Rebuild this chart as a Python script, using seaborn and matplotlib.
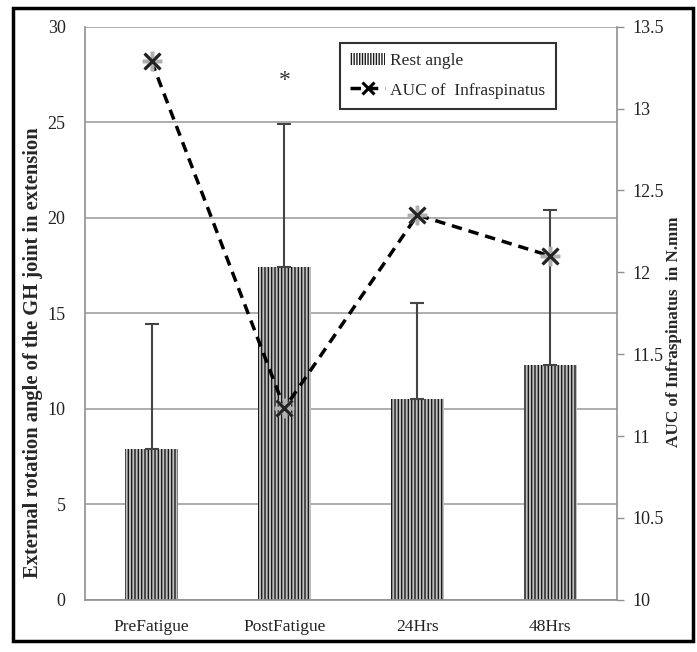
import numpy as np
import pandas as pd
import matplotlib
matplotlib.use('Agg')
import matplotlib.pyplot as plt
import seaborn as sns
from matplotlib.patches import Patch, Rectangle
from matplotlib.lines import Line2D

# data
stages = ['PreFatigue', 'PostFatigue', '24Hrs', '48Hrs']
rest_angle = [7.9, 17.4, 10.5, 12.3]
rest_err_up = [6.55, 7.5, 5.05, 8.1]
auc_infra = [13.29, 11.17, 12.35, 12.10]

sns.set_theme(style='white')
plt.rcParams['font.family'] = ['Liberation Serif', 'DejaVu Serif']
plt.rcParams['hatch.linewidth'] = 1.0

df = pd.DataFrame({'stage': stages, 'rest': rest_angle, 'auc': auc_infra})

fig = plt.figure(figsize=(6.97, 6.52), dpi=100)
ax = fig.add_axes([0.122, 0.080, 0.763, 0.879])

# bars
sns.barplot(data=df, x='stage', y='rest', ax=ax, color='#c0c0c0',
            width=0.4, saturation=1, errorbar=None, zorder=2)
for p in ax.patches:
    p.set_hatch('|||||')
    p.set_edgecolor('#1a1a1a')
    p.set_linewidth(0)

# upper error bars only
xpos = np.arange(len(stages))
ax.errorbar(xpos, rest_angle, yerr=[np.zeros(len(stages)), rest_err_up],
            fmt='none', ecolor='#444444', elinewidth=1.5, capsize=5,
            capthick=1.5, zorder=3)

ax.text(1, 27.2, '*', ha='center', va='center', fontsize=17, color='#333333')

ax.set_ylim(0, 30)
ax.set_yticks(range(0, 31, 5))
ax.set_xlim(-0.5, 3.5)
ax.yaxis.grid(True, color='#a0a0a0', linewidth=1.2)
ax.set_axisbelow(True)
for s in ['left', 'bottom', 'right']:
    ax.spines[s].set_color('#909090')
    ax.spines[s].set_linewidth(1.2)
ax.spines['top'].set_visible(False)
ax.tick_params(axis='y', length=0, pad=14, labelsize=13, colors='#222222')
ax.tick_params(axis='x', length=0, pad=14, labelsize=12.5, colors='#222222')
ax.set_xlabel('')
ax.set_ylabel('External rotation angle of the GH joint in extension',
              fontsize=14.8, fontweight='bold')
ax.yaxis.set_label_coords(-0.079, 0.432)

# line on secondary axis
ax2 = ax.twinx()
sns.lineplot(data=df, x='stage', y='auc', ax=ax2, color='black',
             linestyle=(0, (3, 2)), linewidth=2.5, zorder=4, sort=False)
ax2.plot(xpos, auc_infra, linestyle='none', marker=(8, 2, 0), markersize=14,
         markeredgecolor='#b0b0b0', markeredgewidth=2.5, zorder=5)
ax2.plot(xpos, auc_infra, linestyle='none', marker='x', markersize=12,
         markeredgecolor='#222222', markeredgewidth=2.2, zorder=6)
ax2.set_ylim(10, 13.5)
ax2.set_yticks(np.arange(10, 13.51, 0.5))
ax2.set_yticklabels(['10', '10.5', '11', '11.5', '12', '12.5', '13', '13.5'])
for s in ax2.spines.values():
    s.set_visible(False)
ax2.tick_params(axis='y', direction='out', length=5, width=1, color='#909090',
                pad=6, labelsize=13, labelcolor='#222222', right=True)
ax2.set_ylabel('AUC of Infraspinatus  in N.mm', fontsize=12.3,
               fontweight='bold')
ax2.yaxis.set_label_coords(1.092, 0.468)
ax2.set_xlabel('')

handles = [
    Patch(facecolor='white', edgecolor='#1a1a1a', hatch='||||||', linewidth=0,
          label='Rest angle'),
    Line2D([0], [0], color='black', linestyle=(0, (3, 2)), linewidth=2.5,
           marker='x', markersize=9, markeredgewidth=2.2,
           label='AUC of  Infraspinatus'),
]
leg = ax2.legend(handles=handles, loc='upper left',
                 bbox_to_anchor=(0.479, 0.972), borderaxespad=0,
                 fontsize=12.5, frameon=True, fancybox=False,
                 edgecolor='black', handlelength=2.0, handletextpad=0.3,
                 borderpad=0.6, labelspacing=0.75)
leg.get_frame().set_linewidth(1.5)

# outer frame around the whole figure
fig.patches.append(Rectangle((13 / 697, 1 - 641 / 652), 680 / 697, 633 / 652,
                             transform=fig.transFigure, fill=False,
                             edgecolor='black', linewidth=2.5))

fig.savefig('out.png', dpi=100)
